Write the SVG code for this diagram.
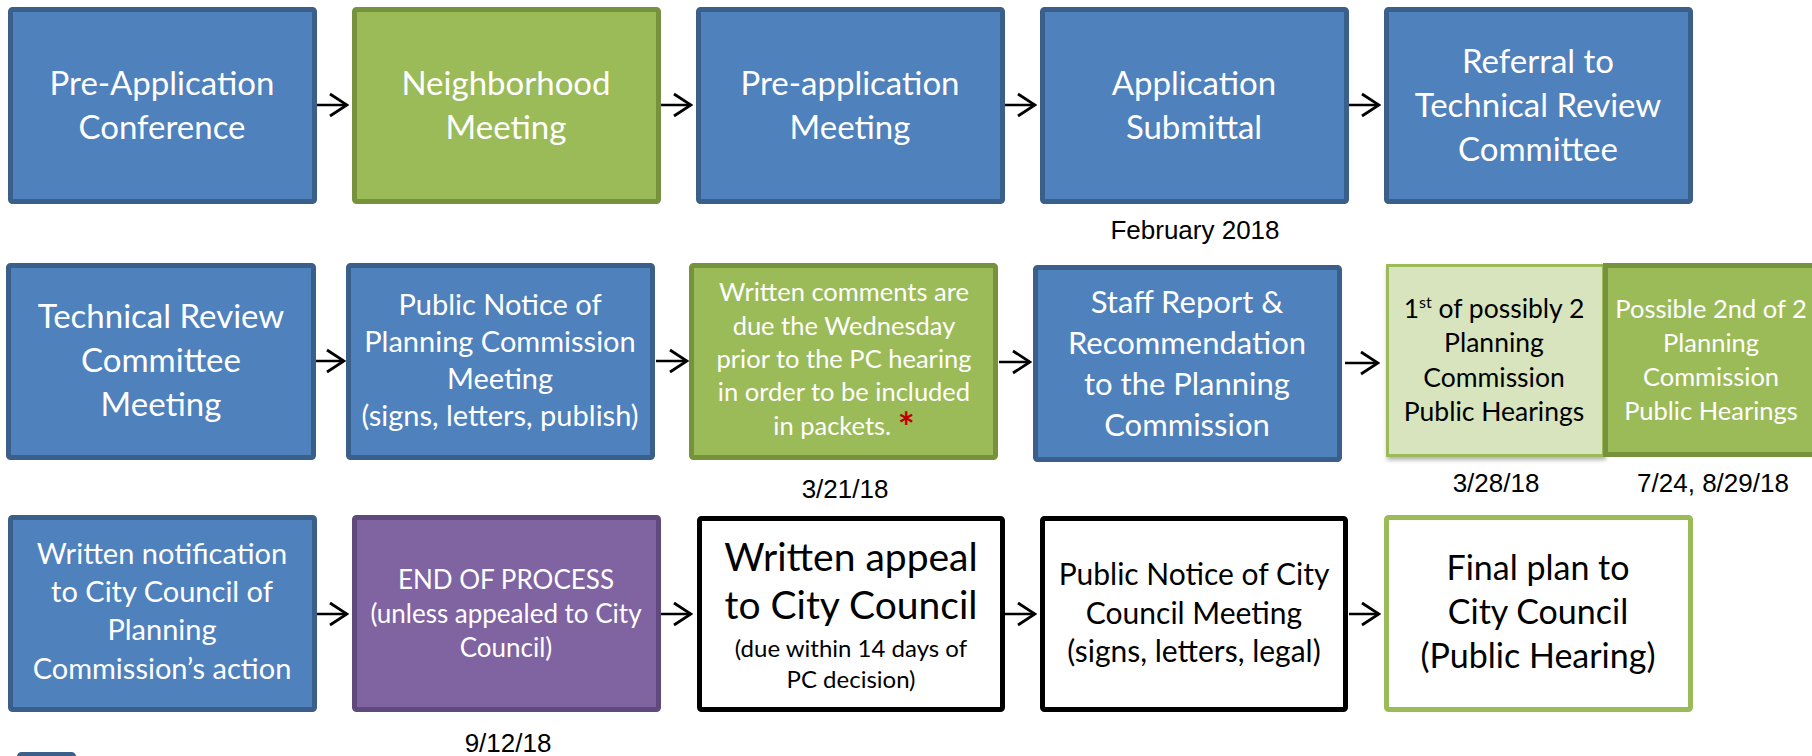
<svg xmlns="http://www.w3.org/2000/svg" width="1812" height="756" viewBox="0 0 1812 756">
<style>
.blue{fill:#4F81BD;stroke:#3A5F8B;stroke-width:5}
.green{fill:#9BBB59;stroke:#76923C;stroke-width:5}
.lgreen{fill:#D7E4BD;stroke:#9BBB59;stroke-width:3}
.purple{fill:#8064A2;stroke:#5F4A7B;stroke-width:5}
.white{fill:#FFFFFF;stroke:#000000;stroke-width:5}
.wgreen{fill:#FFFFFF;stroke:#9BBB59;stroke-width:5}
text{font-family:Lato,"Open Sans","Liberation Sans",sans-serif;text-anchor:middle}
.tw{fill:#FFFFFF}
.tk{fill:#000000}
.date{font-family:"Liberation Sans",Arial,sans-serif;font-size:26px;fill:#000000}
.conn line{stroke:#000000;stroke-width:2.5;fill:none}
</style>
<defs>
<marker id="arr" markerUnits="userSpaceOnUse" viewBox="0 0 20 26" refX="18" refY="13" markerWidth="20" markerHeight="26" orient="auto">
<path d="M1,2 L18,13 L1,24" fill="none" stroke="#000000" stroke-width="2.8"/>
</marker>
<filter id="sh" x="-5%" y="-5%" width="115%" height="115%">
<feDropShadow dx="1" dy="3" stdDeviation="2" flood-color="#000000" flood-opacity="0.3"/>
</filter>
</defs>
<rect width="1812" height="756" fill="#FFFFFF"/>

<g id="connectors" class="conn">
<line x1="317" y1="105" x2="347" y2="105" marker-end="url(#arr)"/>
<line x1="661" y1="105" x2="691" y2="105" marker-end="url(#arr)"/>
<line x1="1005" y1="105" x2="1035" y2="105" marker-end="url(#arr)"/>
<line x1="1349" y1="105" x2="1379" y2="105" marker-end="url(#arr)"/>
<line x1="315" y1="361" x2="344" y2="361" marker-end="url(#arr)"/>
<line x1="656" y1="361" x2="687" y2="361" marker-end="url(#arr)"/>
<line x1="999" y1="362" x2="1030" y2="362" marker-end="url(#arr)"/>
<line x1="1345" y1="363" x2="1378" y2="363" marker-end="url(#arr)"/>
<line x1="317" y1="614" x2="347" y2="614" marker-end="url(#arr)"/>
<line x1="661" y1="614" x2="691" y2="614" marker-end="url(#arr)"/>
<line x1="1005" y1="614" x2="1035" y2="614" marker-end="url(#arr)"/>
<line x1="1349" y1="614" x2="1379" y2="614" marker-end="url(#arr)"/>
</g>

<!-- Row 1 -->
<g id="n-preapp-conf">
<rect class="blue" x="10.5" y="9.5" width="304" height="192" rx="2"/>
<text class="tw" font-size="33" x="162"><tspan x="162" y="95">Pre-Application</tspan><tspan x="162" y="139">Conference</tspan></text>
</g>
<g id="n-neighborhood">
<rect class="green" x="354.5" y="9.5" width="304" height="192" rx="2"/>
<text class="tw" font-size="33"><tspan x="506" y="95">Neighborhood</tspan><tspan x="506" y="139">Meeting</tspan></text>
</g>
<g id="n-preapp-meeting">
<rect class="blue" x="698.5" y="9.5" width="304" height="192" rx="2"/>
<text class="tw" font-size="33"><tspan x="850" y="95">Pre-application</tspan><tspan x="850" y="139">Meeting</tspan></text>
</g>
<g id="n-submittal">
<rect class="blue" x="1042.5" y="9.5" width="304" height="192" rx="2"/>
<text class="tw" font-size="33"><tspan x="1194" y="95">Application</tspan><tspan x="1194" y="139">Submittal</tspan></text>
<text class="date" x="1195" y="239">February 2018</text>
</g>
<g id="n-referral">
<rect class="blue" x="1386.5" y="9.5" width="304" height="192" rx="2"/>
<text class="tw" font-size="33"><tspan x="1538" y="73">Referral to</tspan><tspan x="1538" y="117">Technical Review</tspan><tspan x="1538" y="161">Committee</tspan></text>
</g>

<!-- Row 2 -->
<g id="n-trc-meeting">
<rect class="blue" x="8.5" y="265.5" width="305" height="192" rx="2"/>
<text class="tw" font-size="33"><tspan x="161" y="328">Technical Review</tspan><tspan x="161" y="372">Committee</tspan><tspan x="161" y="416">Meeting</tspan></text>
</g>
<g id="n-pc-notice">
<rect class="blue" x="348.5" y="265.5" width="304" height="192" rx="2"/>
<text class="tw" font-size="29"><tspan x="500" y="315">Public Notice of</tspan><tspan x="500" y="352">Planning Commission</tspan><tspan x="500" y="389">Meeting</tspan><tspan x="500" y="426">(signs, letters, publish)</tspan></text>
</g>
<g id="n-written-comments">
<rect class="green" x="691.5" y="265.5" width="304" height="192" rx="2"/>
<text class="tw" font-size="25.5"><tspan x="844" y="301">Written comments are</tspan><tspan x="844" y="335">due the Wednesday</tspan><tspan x="844" y="368">prior to the PC hearing</tspan><tspan x="844" y="401">in order to be included</tspan><tspan x="844" y="435">in packets. <tspan fill="#C00000" font-weight="bold" font-size="40" dy="7">*</tspan></tspan></text>
<text class="date" x="845" y="498">3/21/18</text>
</g>
<g id="n-staff-report">
<rect class="blue" x="1035.5" y="267.5" width="304" height="192" rx="2"/>
<text class="tw" font-size="31"><tspan x="1187" y="313">Staff Report &amp;</tspan><tspan x="1187" y="354">Recommendation</tspan><tspan x="1187" y="395">to the Planning</tspan><tspan x="1187" y="436">Commission</tspan></text>
</g>
<g id="n-pc-hearing-1">
<rect class="lgreen" x="1387.5" y="265.5" width="216" height="190" filter="url(#sh)"/>
<text class="tk" font-size="26.5"><tspan x="1494" y="318">1<tspan font-size="16" dy="-10">st</tspan><tspan dy="10"> of possibly 2</tspan></tspan><tspan x="1494" y="352">Planning</tspan><tspan x="1494" y="387">Commission</tspan><tspan x="1494" y="421">Public Hearings</tspan></text>
<text class="date" x="1496" y="492">3/28/18</text>
</g>
<g id="n-pc-hearing-2">
<rect class="green" x="1605.5" y="265.5" width="215" height="189"/>
<text class="tw" font-size="25.5"><tspan x="1711" y="318">Possible 2nd of 2</tspan><tspan x="1711" y="352">Planning</tspan><tspan x="1711" y="386">Commission</tspan><tspan x="1711" y="420">Public Hearings</tspan></text>
<text class="date" x="1713" y="492">7/24, 8/29/18</text>
</g>

<!-- Row 3 -->
<g id="n-cc-notification">
<rect class="blue" x="10.5" y="517.5" width="304" height="192" rx="2"/>
<text class="tw" font-size="29"><tspan x="162" y="564">Written notification</tspan><tspan x="162" y="602">to City Council of</tspan><tspan x="162" y="640">Planning</tspan><tspan x="162" y="679">Commission’s action</tspan></text>
</g>
<g id="n-end">
<rect class="purple" x="354.5" y="517.5" width="304" height="192" rx="2"/>
<text class="tw" font-size="26"><tspan x="506" y="589">END OF PROCESS</tspan><tspan x="506" y="623">(unless appealed to City</tspan><tspan x="506" y="657">Council)</tspan></text>
<text class="date" x="508" y="752">9/12/18</text>
</g>
<g id="n-appeal">
<rect class="white" x="699.5" y="518.5" width="303" height="191" rx="2"/>
<text class="tk"><tspan x="851" y="571" font-size="39">Written appeal</tspan><tspan x="851" y="619" font-size="39">to City Council</tspan><tspan x="851" y="657" font-size="24">(due within 14 days of</tspan><tspan x="851" y="688" font-size="24">PC decision)</tspan></text>
</g>
<g id="n-cc-notice">
<rect class="white" x="1042.5" y="518.5" width="303" height="191" rx="2"/>
<text class="tk" font-size="30"><tspan x="1194" y="585">Public Notice of City</tspan><tspan x="1194" y="624">Council Meeting</tspan><tspan x="1194" y="662">(signs, letters, legal)</tspan></text>
</g>
<g id="n-final-plan">
<rect class="wgreen" x="1386.5" y="517.5" width="304" height="192" rx="2"/>
<text class="tk" font-size="34"><tspan x="1538" y="580">Final plan to</tspan><tspan x="1538" y="624">City Council</tspan><tspan x="1538" y="668">(Public Hearing)</tspan></text>
</g>

<g id="legend">
<rect class="blue" x="19.5" y="754.5" width="54" height="14" rx="2"/>
</g>
</svg>
